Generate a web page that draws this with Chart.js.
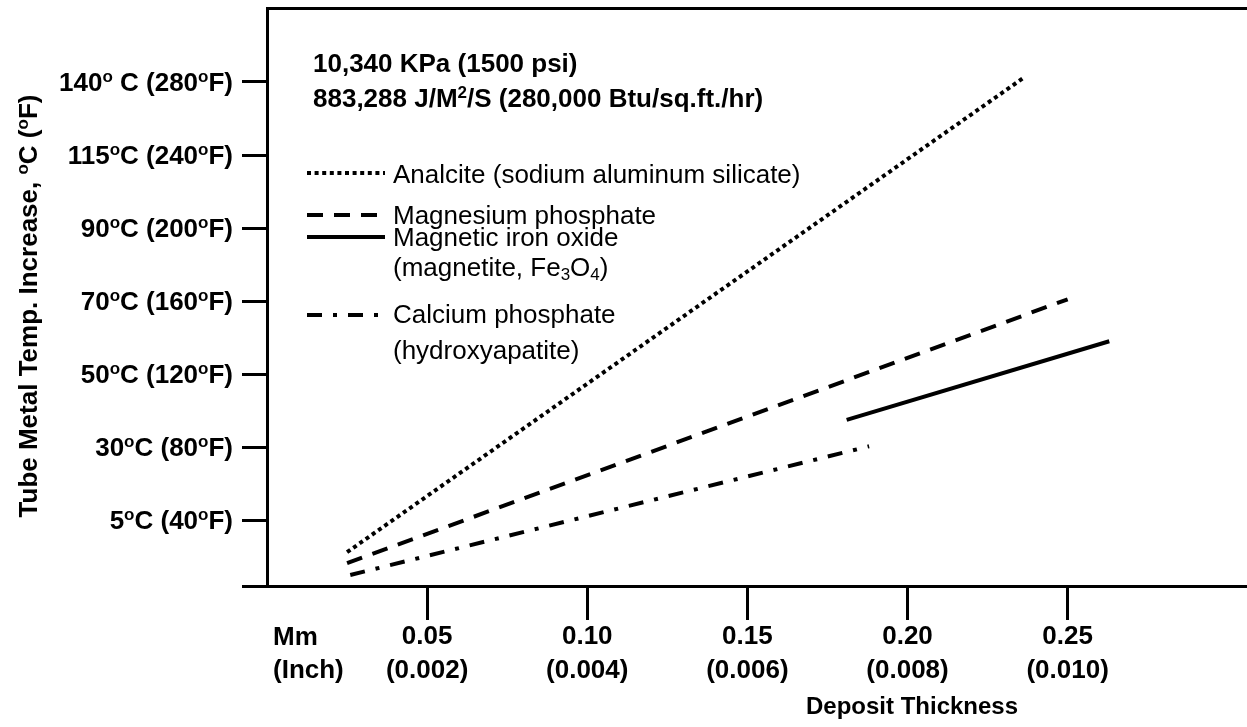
<!DOCTYPE html>
<html>
<head>
<meta charset="utf-8">
<script src="https://cdn.jsdelivr.net/npm/chart.js"></script>
<style>
  body { margin: 0; background: #fff; }
  #wrap { width: 1247px; height: 727px; position: relative; }
</style>
</head>
<body>
<div id="wrap">
    <canvas id="myChart"></canvas>
</div>

<script>
    // deposit thickness (mm) and tube metal temperature rise (deg F)
    const analciteMm = [0.025, 0.236];
    const analciteRise = [22.5, 282];
    const mgPhosMm = [0.025, 0.25];
    const mgPhosRise = [16.5, 161];
    const magnetiteMm = [0.181, 0.263];
    const magnetiteRise = [95, 138];
    const caPhosMm = [0.026, 0.188];
    const caPhosRise = [10, 80.5];

    // axis ticks
    const thicknessTicks = [0.05, 0.10, 0.15, 0.20, 0.25];
    const thicknessLabels = [
        ['0.05', '(0.002)'],
        ['0.10', '(0.004)'],
        ['0.15', '(0.006)'],
        ['0.20', '(0.008)'],
        ['0.25', '(0.010)']
    ];
    const tempTicksF = [40, 80, 120, 160, 200, 240, 280];
    // ^x = superscript char, _x = subscript char
    const tempTickLabels = [
        '5^oC (40^oF)',
        '30^oC (80^oF)',
        '50^oC (120^oF)',
        '70^oC (160^oF)',
        '90^oC (200^oF)',
        '115^oC (240^oF)',
        '140^o C (280^oF)'
    ];

    const seriesNames = [
        ['Analcite (sodium aluminum silicate)'],
        ['Magnesium phosphate'],
        ['Magnetic iron oxide', '(magnetite, Fe_3O_4)'],
        ['Calcium phosphate', '(hydroxyapatite)']
    ];
    const headerLines = ['10,340 KPa (1500 psi)', '883,288 J/M^2/S (280,000 Btu/sq.ft./hr)'];
    const unitLabel = ['Mm', '(Inch)'];
    const xTitle = 'Deposit Thickness';
    const yTitle = 'Tube Metal Temp. Increase, ^oC (^oF)';

    const FONT = '"Liberation Sans", Arial, Helvetica, sans-serif';

    function toPoints(xs, ys) {
        return xs.map((x, i) => ({ x: x, y: ys[i] }));
    }

    function splitRich(str) {
        const out = [];
        let buf = '';
        for (let i = 0; i < str.length; i++) {
            const c = str[i];
            if ((c === '^' || c === '_') && i + 1 < str.length) {
                if (buf) out.push({ t: buf, k: 0 });
                buf = '';
                out.push({ t: str[i + 1], k: c === '^' ? 1 : -1 });
                i++;
            } else {
                buf += c;
            }
        }
        if (buf) out.push({ t: buf, k: 0 });
        return out;
    }

    // draw text with small super/subscripts, y is the baseline
    function drawRich(ctx, str, x, y, size, weight, align) {
        const parts = splitRich(str);
        const small = Math.round(size * 0.64);
        let w = 0;
        parts.forEach(p => {
            ctx.font = weight + ' ' + (p.k ? small : size) + 'px ' + FONT;
            w += ctx.measureText(p.t).width;
        });
        let cx = x;
        if (align === 'right') cx = x - w;
        if (align === 'center') cx = x - w / 2;
        ctx.textAlign = 'left';
        ctx.textBaseline = 'alphabetic';
        ctx.fillStyle = '#000';
        parts.forEach(p => {
            ctx.font = weight + ' ' + (p.k ? small : size) + 'px ' + FONT;
            let dy = 0;
            if (p.k === 1) dy = -size * 0.36;
            if (p.k === -1) dy = size * 0.16;
            ctx.fillText(p.t, cx, y + dy);
            cx += ctx.measureText(p.t).width;
        });
    }

    const annotations = {
        id: 'annotations',
        afterDraw(chart) {
            const ctx = chart.ctx;
            const area = chart.chartArea;
            const ys = chart.scales.y;
            const xs = chart.scales.x;
            ctx.save();

            // y tick labels
            tempTicksF.forEach((v, i) => {
                drawRich(ctx, tempTickLabels[i], area.left - 34, ys.getPixelForValue(v) + 9, 26, 'bold', 'right');
            });

            // y title
            ctx.save();
            ctx.translate(28, (area.top + area.bottom) / 2 + 9);
            ctx.rotate(-Math.PI / 2);
            drawRich(ctx, yTitle, 0, 9, 26, 'bold', 'center');
            ctx.restore();

            // unit label under the x axis
            const ux = xs.getPixelForValue(0) + 6;
            drawRich(ctx, unitLabel[0], ux, 645, 26, 'bold', 'left');
            drawRich(ctx, unitLabel[1], ux, 678, 26, 'bold', 'left');

            // x title
            drawRich(ctx, xTitle, 912, 714, 24, 'bold', 'center');

            // header
            drawRich(ctx, headerLines[0], area.left + 46, 72, 26, 'bold', 'left');
            drawRich(ctx, headerLines[1], area.left + 46, 107, 26, 'bold', 'left');

            // legend
            const lineY = [173, 215, 237, 315];
            const textY = [[183], [224], [246, 276], [323, 359]];
            const x0 = area.left + 40, x1 = area.left + 118, tx = area.left + 126;
            chart.data.datasets.forEach((ds, i) => {
                ctx.save();
                ctx.strokeStyle = '#000';
                ctx.lineWidth = ds.borderWidth;
                ctx.lineCap = 'butt';
                ctx.setLineDash(ds.borderDash || []);
                ctx.beginPath();
                ctx.moveTo(x0, lineY[i]);
                ctx.lineTo(x1, lineY[i]);
                ctx.stroke();
                ctx.restore();
                seriesNames[i].forEach((s, j) => {
                    drawRich(ctx, s, tx, textY[i][j], 26, 'normal', 'left');
                });
            });

            ctx.restore();
        }
    };

    const lineStyle = {
        borderColor: '#000',
        borderWidth: 4,
        pointRadius: 0,
        fill: false,
        tension: 0,
        borderCapStyle: 'butt'
    };

    const ctx = document.getElementById('myChart');
    const myChart = new Chart(ctx, {
        type: 'line',
        data: {
            datasets: [
                Object.assign({ label: seriesNames[0].join(' '), data: toPoints(analciteMm, analciteRise), borderDash: [4, 3.6] }, lineStyle),
                Object.assign({ label: seriesNames[1].join(' '), data: toPoints(mgPhosMm, mgPhosRise), borderDash: [16, 11] }, lineStyle),
                Object.assign({ label: seriesNames[2].join(' '), data: toPoints(magnetiteMm, magnetiteRise), borderDash: [] }, lineStyle),
                Object.assign({ label: seriesNames[3].join(' '), data: toPoints(caPhosMm, caPhosRise), borderDash: [15, 11, 4, 11] }, lineStyle)
            ]
        },
        options: {
            responsive: true,
            maintainAspectRatio: false,
            animation: false,
            layout: { padding: 0 },
            plugins: {
                legend: { display: false },
                tooltip: { enabled: false }
            },
            scales: {
                x: {
                    type: 'linear',
                    position: 'bottom',
                    min: 0,
                    max: 0.306,
                    afterBuildTicks: s => { s.ticks = thicknessTicks.map(v => ({ value: v })); },
                    afterFit: s => { s.height = 141; },
                    ticks: {
                        autoSkip: false,
                        maxRotation: 0,
                        padding: 0,
                        color: '#000',
                        font: { family: FONT, size: 26, weight: 'bold', lineHeight: 1.31 },
                        callback: (v, i) => thicknessLabels[i]
                    },
                    grid: { drawOnChartArea: false, drawTicks: true, tickLength: 34, tickWidth: 3, tickColor: '#000' },
                    border: { display: true, color: '#000', width: 3 }
                },
                xTop: {
                    type: 'linear',
                    position: 'top',
                    min: 0,
                    max: 0.306,
                    afterFit: s => { s.height = 8; },
                    ticks: { display: false },
                    grid: { display: false, drawTicks: false },
                    border: { display: true, color: '#000', width: 3 }
                },
                y: {
                    type: 'linear',
                    min: 4,
                    max: 320.5,
                    afterBuildTicks: s => { s.ticks = [4].concat(tempTicksF).map(v => ({ value: v })); },
                    afterFit: s => { s.width = 267; },
                    ticks: { display: false },
                    grid: { drawOnChartArea: false, drawTicks: true, tickLength: 25, tickWidth: 3, tickColor: '#000' },
                    border: { display: true, color: '#000', width: 3 }
                }
            }
        },
        plugins: [annotations]
    });
</script>
</body>
</html>
